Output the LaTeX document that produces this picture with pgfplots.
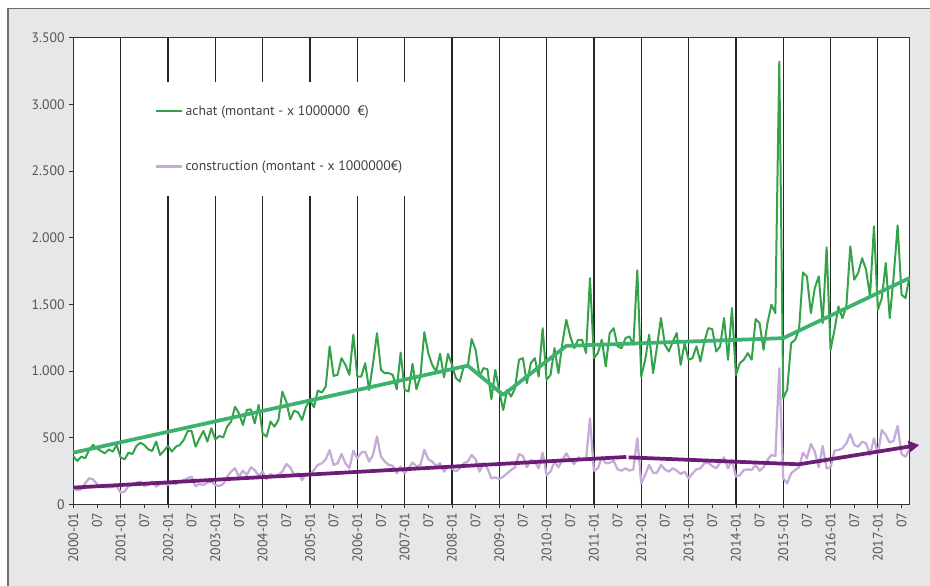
\documentclass[border=0pt]{standalone}
\usepackage{fontspec}
\setmainfont{PT Sans}
\usepackage{pgfplots}
\pgfplotsset{compat=1.18}
\usepackage{pgfplotstable}
\usetikzlibrary{arrows.meta}

\definecolor{achatCol}{RGB}{52,162,72}
\definecolor{constCol}{RGB}{198,170,216}
\definecolor{trendVert}{RGB}{60,178,110}
\definecolor{trendViolet}{RGB}{108,30,118}
\definecolor{panelGray}{RGB}{230,231,233}
\definecolor{panelBorder}{RGB}{110,110,110}
\definecolor{labelGray}{RGB}{85,85,85}
\definecolor{legendText}{RGB}{64,64,64}

% m = mois depuis 2000-01
\pgfplotstableread{
m achat construction
0 360 120
1 325 107
2 357 112
3 345 157
4 407 195
5 445 187
6 420 152
7 400 132
8 382 127
9 412 127
10 395 132
11 445 137
12 352 87
13 337 95
14 387 137
15 377 145
16 437 162
17 462 170
18 445 137
19 412 145
20 400 170
21 470 132
22 370 152
23 402 152
24 437 145
25 395 157
26 432 152
27 445 170
28 482 182
29 550 195
30 550 207
31 432 137
32 495 152
33 550 145
34 470 162
35 570 170
36 487 145
37 512 137
38 502 152
39 582 207
40 620 245
41 732 270
42 682 207
43 595 252
44 707 220
45 712 277
46 607 257
47 745 212
48 532 245
49 507 187
50 620 227
51 582 207
52 632 220
53 845 245
54 770 302
55 637 277
56 702 220
57 690 232
58 632 182
59 732 232
60 783 220
61 728 257
62 853 295
63 838 307
64 883 337
65 1184 407
66 963 295
67 971 307
68 1096 377
69 1046 307
70 971 270
71 1272 402
72 958 345
73 958 388
74 1058 395
75 858 320
76 1058 370
77 1284 508
78 1008 358
79 983 320
80 983 295
81 971 288
82 863 232
83 1138 283
84 858 232
85 846 270
86 1053 313
87 863 283
88 958 295
89 1291 408
90 1134 338
91 1046 320
92 996 288
93 1129 308
94 953 245
95 1129 283
96 1046 270
97 946 245
98 921 270
99 1034 308
100 1034 320
101 1239 370
102 1159 338
103 958 245
104 1021 308
105 1013 270
106 788 195
107 1008 202
108 850 190
109 708 207
110 858 232
111 808 257
112 871 277
113 1084 377
114 1096 362
115 908 277
116 1059 332
117 1096 320
118 958 270
119 1321 387
120 933 220
121 971 245
122 1171 320
123 983 277
124 1209 332
125 1384 382
126 1259 332
127 1171 302
128 1234 352
129 1234 337
130 1134 337
131 1697 645
132 1096 252
133 1134 270
134 1234 352
135 1034 307
136 1284 312
137 1321 327
138 1184 262
139 1171 252
140 1246 270
141 1259 252
142 1196 262
143 1755 495
144 959 157
145 1084 220
146 1272 295
147 984 237
148 1184 237
149 1397 295
150 1196 262
151 1146 245
152 1221 270
153 1284 252
154 1046 227
155 1209 245
156 1084 195
157 1096 232
158 1184 262
159 1071 270
160 1221 307
161 1321 312
162 1314 287
163 1146 270
164 1184 312
165 1397 352
166 1084 270
167 1472 332
168 971 207
169 1059 220
170 1084 257
171 1134 262
172 1084 257
173 1389 295
174 1359 252
175 1159 277
176 1359 332
177 1497 370
178 1434 362
179 3320 1020
180 795 195
181 858 157
182 1208 232
183 1233 257
184 1309 277
185 1739 387
186 1709 345
187 1434 452
188 1622 395
189 1709 277
190 1359 437
191 1927 270
192 1158 277
193 1309 402
194 1484 407
195 1396 420
196 1484 457
197 1935 527
198 1685 445
199 1734 432
200 1846 470
201 1760 457
202 1559 370
203 2084 495
204 1459 377
205 1547 557
206 1810 520
207 1396 462
208 1709 477
209 2092 587
210 1572 377
211 1547 357
212 1709 412
}\montants

\begin{document}
\begin{tikzpicture}
  % fond de la figure
  \fill[white] (-54.98pt,-61.28pt) rectangle (642.5pt,378.2pt);
  \fill[panelGray] (-48.98pt,-61.28pt) rectangle (642.5pt,371.5pt);
  \draw[panelBorder, line width=0.75pt] (-48.98pt,-61.28pt) -- (-48.98pt,371.5pt) -- (642.5pt,371.5pt);

  \begin{axis}[
    scale only axis, width=627.08pt, height=349.95pt,
    at={(0pt,0pt)}, anchor=south west,
    xmin=0, xmax=212, ymin=0, ymax=3500,
    clip=false,
    axis background/.style={fill=white},
    axis line style={draw=black!80, line width=0.8pt},
    tick align=outside, xtick pos=bottom, ytick pos=left,
    major tick length=3pt,
    tick style={black!80, line width=0.6pt},
    xtick={0,6,...,210},
    xticklabels={2000-01,07,2001-01,07,2002-01,07,2003-01,07,2004-01,07,2005-01,07,
                 2006-01,07,2007-01,07,2008-01,07,2009-01,07,2010-01,07,2011-01,07,
                 2012-01,07,2013-01,07,2014-01,07,2015-01,07,2016-01,07,2017-01,07},
    xticklabel style={rotate=90, anchor=east, font=\fontsize{10.3}{12}\selectfont, text=labelGray},
    extra x ticks={12,24,...,204}, extra x tick labels={},
    extra x tick style={grid=major, major tick length=0pt},
    grid style={black!85, line width=0.9pt},
    ytick={0,500,...,3500},
    yticklabel style={font=\fontsize{10.3}{12}\selectfont, text=labelGray},
    scaled y ticks=false,
    /pgf/number format/1000 sep={.},
    /pgf/number format/assume math mode=true,
    legend style={at={(0.0619,0.905)}, anchor=north west, draw=none, fill=white,
                  font=\fontsize{10.3}{12}\selectfont, text=legendText,
                  row sep=28.5pt, inner xsep=22pt, inner ysep=15.5pt,
                  cells={anchor=west}},
    legend image code/.code={\draw[#1] (0pt,0pt) -- (19.5pt,0pt);},
  ]
    \addplot[achatCol, line width=1.5pt, line join=round] table[x=m, y=achat] {\montants};
    \addlegendentry{achat (montant - x 1000000\ \ €)}
    \addplot[constCol, line width=1.7pt, line join=round] table[x=m, y=construction] {\montants};
    \addlegendentry{construction (montant - x 1000000€)}

    % tendances
    \addplot[trendVert, line width=2.8pt, line join=round, forget plot]
      coordinates {(0,387)(100,1040)(109,821)(125,1188)(180,1246)(212,1697)};
    \addplot[trendViolet, line width=2.8pt, forget plot]
      coordinates {(0,125)(140.2,355)};
    \addplot[trendViolet, line width=2.8pt, line join=round, forget plot,
             -{Triangle[length=8pt,width=8.5pt]}]
      coordinates {(140.8,352)(184,300)(214.5,445)};
  \end{axis}

  \pgfresetboundingbox
  \path[use as bounding box] (-54.98pt,-61.28pt) rectangle (642.5pt,378.2pt);
\end{tikzpicture}
\end{document}
